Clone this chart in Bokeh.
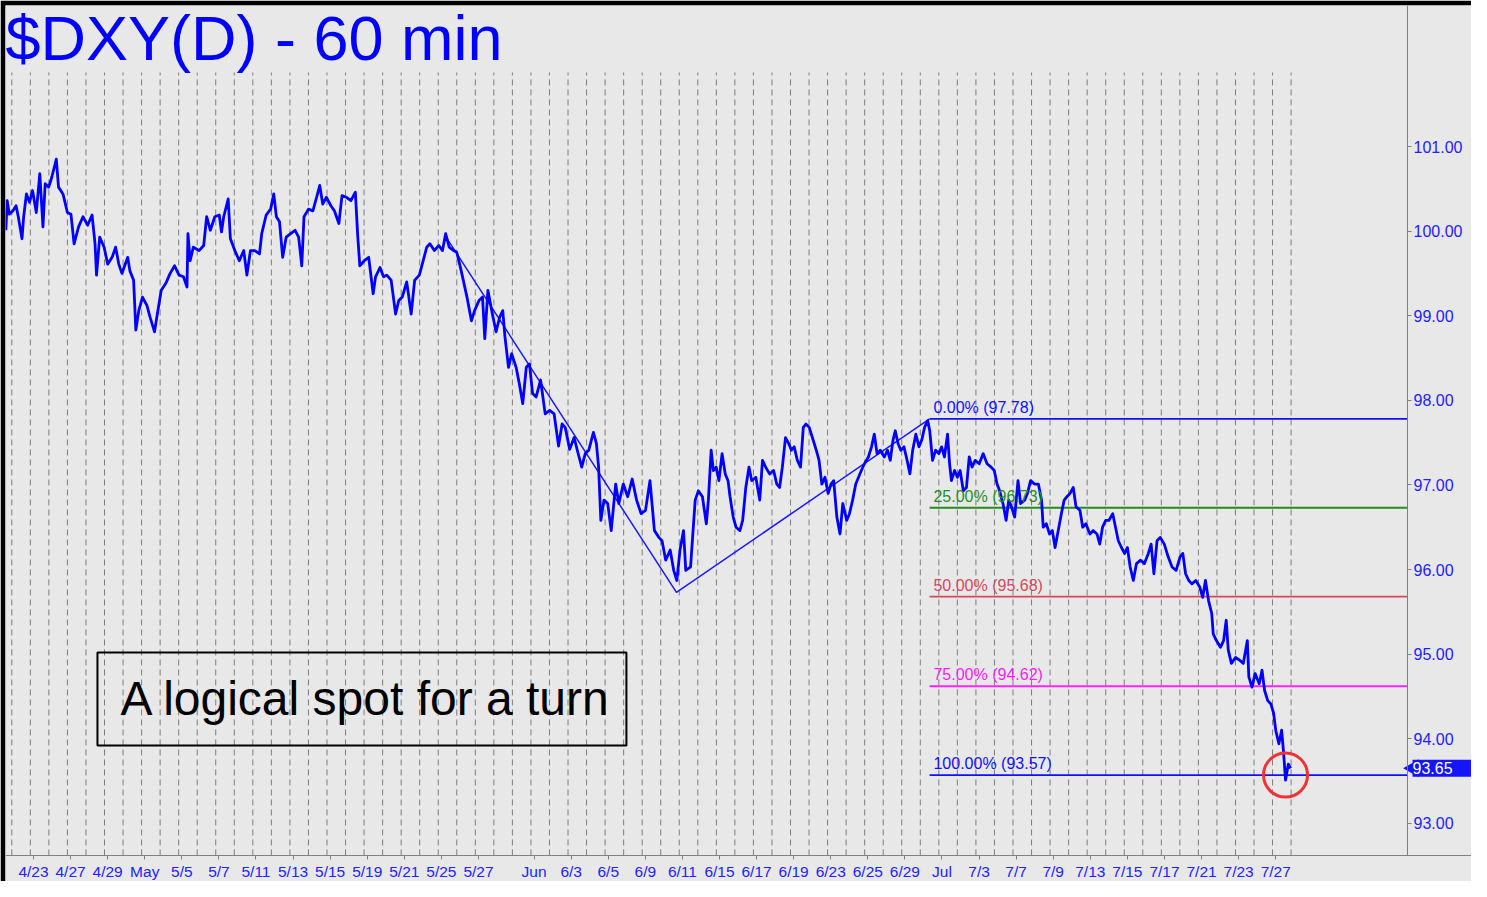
import math
from bokeh.plotting import figure
from bokeh.models import ColumnDataSource, Label, BoxAnnotation, FixedTicker, Range1d
from bokeh.embed import file_html
from bokeh.resources import INLINE
from bokeh.core.properties import value

# ---------------- data ----------------
trading_days = ["4/23", "4/24", "4/27", "4/28", "4/29", "4/30", "5/1", "5/4", "5/5", "5/6",
                "5/7", "5/8", "5/11", "5/12", "5/13", "5/14", "5/15", "5/18", "5/19", "5/20",
                "5/21", "5/22", "5/25", "5/26", "5/27", "5/28", "5/29", "6/1", "6/2", "6/3",
                "6/4", "6/5", "6/8", "6/9", "6/10", "6/11", "6/12", "6/15", "6/16", "6/17",
                "6/18", "6/19", "6/22", "6/23", "6/24", "6/25", "6/26", "6/29", "6/30", "7/1",
                "7/2", "7/3", "7/6", "7/7", "7/8", "7/9", "7/10", "7/13", "7/14", "7/15",
                "7/16", "7/17", "7/20", "7/21", "7/22", "7/23", "7/24", "7/27"]
x_labels = {"4/23": "4/23", "4/27": "4/27", "4/29": "4/29", "5/1": "May", "5/5": "5/5",
            "5/7": "5/7", "5/11": "5/11", "5/13": "5/13", "5/15": "5/15", "5/19": "5/19",
            "5/21": "5/21", "5/25": "5/25", "5/27": "5/27", "6/1": "Jun", "6/3": "6/3",
            "6/5": "6/5", "6/9": "6/9", "6/11": "6/11", "6/15": "6/15", "6/17": "6/17",
            "6/19": "6/19", "6/23": "6/23", "6/25": "6/25", "6/29": "6/29", "7/1": "Jul",
            "7/3": "7/3", "7/7": "7/7", "7/9": "7/9", "7/13": "7/13", "7/15": "7/15",
            "7/17": "7/17", "7/21": "7/21", "7/23": "7/23", "7/27": "7/27"}

y_ticks = [93, 94, 95, 96, 97, 98, 99, 100, 101]
y_tick_labels = ["93.00", "94.00", "95.00", "96.00", "97.00", "98.00", "99.00", "100.00", "101.00"]

# time in trading days from 4/23, hourly-ish DXY readings (Apr 22 - Jun 11)
price_t_a = [-1.49, -1.42, -1.30, -1.11, -0.94, -0.82, -0.62, -0.53, -0.38, -0.215,
             -0.05, 0.15, 0.34, 0.51, 0.63, 0.82, 0.99, 1.23, 1.35, 1.59,
             1.83, 2.02, 2.19, 2.43, 2.67, 2.92, 3.16, 3.32, 3.40, 3.57,
             3.81, 4.00, 4.24, 4.43, 4.60, 4.77, 5.08, 5.20, 5.40, 5.52,
             5.68, 5.88, 6.12, 6.29, 6.53, 6.65, 6.89, 7.13, 7.37, 7.61,
             7.85, 8.09, 8.28, 8.33, 8.45, 8.62, 8.93, 9.18, 9.34, 9.54,
             9.78, 10.02, 10.14, 10.26, 10.50, 10.62, 10.86, 11.10, 11.34, 11.51,
             11.70, 11.94, 12.19, 12.31, 12.55, 12.79, 12.96, 13.10, 13.27, 13.44,
             13.63, 13.87, 14.11, 14.30, 14.47, 14.59, 14.83, 15.07, 15.32, 15.44,
             15.60, 15.80, 16.04, 16.23, 16.47, 16.64, 16.88, 17.12, 17.36, 17.48,
             17.60, 17.84, 18.08, 18.32, 18.45, 18.69, 18.88, 19.05, 19.29, 19.53,
             19.70, 19.89, 20.13, 20.37, 20.56, 20.81, 20.97, 21.21, 21.38, 21.62,
             21.86, 22.06, 22.23, 22.42, 22.66, 22.83, 23.07, 23.38, 23.62, 23.79,
             24.03, 24.22, 24.34, 24.51, 24.75, 24.95, 25.14, 25.31, 25.43, 25.62,
             25.79, 26.03, 26.20, 26.39, 26.58, 26.75, 26.92, 27.11, 27.35, 27.60,
             27.84, 28.08, 28.32, 28.51, 28.68, 28.92, 29.16, 29.33, 29.57, 29.76,
             29.95, 30.20, 30.36, 30.48, 30.60, 30.77, 30.97, 31.16, 31.40, 31.57,
             31.81, 32.05, 32.29, 32.53, 32.77, 33.01, 33.25, 33.49, 33.73, 33.90,
             34.10, 34.34, 34.53, 34.70, 34.87, 35.06, 35.18]
price_v_a = [100.01, 100.36, 100.20, 100.24, 100.30, 100.17, 99.91, 100.17, 100.44, 100.34,
             100.48, 100.22, 100.68, 100.05, 100.56, 100.52, 100.64, 100.85, 100.52, 100.44,
             100.22, 100.20, 99.85, 100.05, 100.17, 100.07, 100.19, 99.85, 99.48, 99.93,
             99.81, 99.61, 99.69, 99.81, 99.61, 99.50, 99.69, 99.53, 99.42, 98.83,
             99.06, 99.22, 99.12, 98.98, 98.81, 98.98, 99.30, 99.38, 99.50, 99.59,
             99.48, 99.46, 99.34, 99.97, 99.65, 99.81, 99.77, 99.83, 100.17, 100.01,
             100.17, 100.19, 99.99, 100.17, 100.38, 99.91, 99.77, 99.65, 99.77, 99.48,
             99.77, 99.77, 99.73, 99.97, 100.19, 100.26, 100.44, 100.17, 100.11, 99.69,
             99.93, 99.97, 100.01, 99.93, 99.59, 100.17, 100.26, 100.24, 100.44, 100.54,
             100.32, 100.40, 100.30, 100.24, 100.09, 100.42, 100.40, 100.36, 100.46, 99.97,
             99.59, 99.65, 99.69, 99.26, 99.46, 99.57, 99.46, 99.48, 99.42, 99.02,
             99.18, 99.22, 99.40, 99.02, 99.42, 99.48, 99.61, 99.81, 99.85, 99.77,
             99.83, 99.77, 99.97, 99.81, 99.77, 99.75, 99.53, 99.22, 98.94, 99.06,
             99.18, 99.22, 98.73, 99.30, 99.02, 98.81, 98.98, 99.06, 98.75, 98.39,
             98.55, 98.39, 98.20, 97.96, 98.39, 98.43, 98.08, 98.04, 98.24, 97.84,
             97.88, 97.84, 97.46, 97.72, 97.68, 97.42, 97.56, 97.41, 97.21, 97.37,
             97.41, 97.62, 97.49, 97.21, 96.58, 96.82, 96.78, 96.46, 97.01, 96.78,
             97.01, 96.86, 97.07, 96.82, 96.66, 96.70, 97.05, 96.46, 96.38, 96.34,
             96.11, 96.23, 95.99, 95.87, 96.23, 96.46, 95.99]

# (Jun 11 - Jul 27)
price_t_b = [35.44, 35.54, 35.69, 35.86, 36.08, 36.29, 36.40, 36.55, 36.67, 36.82,
             36.97, 37.14, 37.31, 37.46, 37.57, 37.74, 37.89, 38.10, 38.25, 38.42,
             38.59, 38.74, 38.96, 39.17, 39.32, 39.49, 39.70, 39.92, 40.09, 40.24,
             40.39, 40.56, 40.73, 40.88, 41.03, 41.20, 41.37, 41.52, 41.66, 41.84,
             42.01, 42.22, 42.37, 42.52, 42.69, 42.86, 43.01, 43.16, 43.33, 43.50,
             43.65, 43.86, 44.01, 44.18, 44.35, 44.50, 44.65, 44.82, 45.03, 45.20,
             45.35, 45.50, 45.67, 45.89, 46.06, 46.21, 46.36, 46.48, 46.63, 46.78,
             46.95, 47.12, 47.27, 47.42, 47.59, 47.76, 47.91, 48.06, 48.23, 48.34,
             48.49, 48.66, 48.83, 48.98, 49.13, 49.30, 49.41, 49.51, 49.68, 49.83,
             49.98, 50.15, 50.32, 50.47, 50.62, 50.79, 51.01, 51.22, 51.43, 51.65,
             51.82, 51.97, 52.11, 52.29, 52.46, 52.60, 52.75, 52.92, 53.10, 53.24,
             53.46, 53.61, 53.78, 53.99, 54.20, 54.37, 54.46, 54.63, 54.80, 54.95,
             55.10, 55.27, 55.44, 55.59, 55.74, 55.91, 56.08, 56.23, 56.44, 56.59,
             56.76, 56.98, 57.15, 57.36, 57.51, 57.66, 57.83, 58.00, 58.21, 58.36,
             58.51, 58.68, 58.85, 59.00, 59.15, 59.32, 59.49, 59.71, 59.92, 60.13,
             60.28, 60.43, 60.60, 60.77, 60.99, 61.20, 61.41, 61.63, 61.84, 61.99,
             62.14, 62.31, 62.48, 62.69, 62.91, 63.06, 63.21, 63.38, 63.55, 63.63,
             63.80, 64.02, 64.19, 64.33, 64.44, 64.61, 64.83, 65.04, 65.25, 65.47,
             65.55, 65.72, 65.89, 66.11, 66.26, 66.40, 66.57, 66.74, 66.89, 67.00,
             67.17, 67.32, 67.43, 67.53, 67.68, 67.81]
price_v_b = [96.03, 96.35, 96.82, 96.93, 96.86, 96.54, 96.82, 97.41, 97.17, 97.21,
             97.05, 97.37, 97.13, 97.05, 96.86, 96.62, 96.50, 96.46, 96.58, 96.97,
             97.21, 97.05, 97.09, 96.82, 97.29, 97.21, 97.13, 97.17, 97.01, 96.97,
             97.21, 97.56, 97.49, 97.41, 97.45, 97.29, 97.21, 97.68, 97.72, 97.68,
             97.56, 97.41, 97.29, 97.01, 97.09, 96.90, 97.01, 97.05, 96.62, 96.42,
             96.78, 96.58, 96.66, 96.82, 97.01, 97.09, 97.17, 97.25, 97.33, 97.45,
             97.60, 97.37, 97.41, 97.33, 97.41, 97.29, 97.53, 97.64, 97.49, 97.41,
             97.45, 97.29, 97.13, 97.41, 97.60, 97.45, 97.53, 97.68, 97.76, 97.64,
             97.29, 97.41, 97.37, 97.45, 97.33, 97.60, 97.25, 97.05, 97.17, 97.09,
             97.17, 96.93, 96.97, 97.33, 97.21, 97.29, 97.25, 97.37, 97.25, 97.21,
             97.17, 97.01, 96.93, 96.78, 96.58, 96.82, 96.74, 96.62, 97.05, 96.78,
             96.82, 96.90, 97.05, 97.01, 97.01, 96.82, 96.50, 96.54, 96.42, 96.46,
             96.26, 96.46, 96.66, 96.82, 96.86, 96.90, 96.97, 96.74, 96.70, 96.50,
             96.54, 96.42, 96.46, 96.42, 96.30, 96.50, 96.58, 96.58, 96.66, 96.50,
             96.34, 96.26, 96.19, 96.26, 96.03, 95.87, 96.07, 96.11, 96.07, 96.19,
             96.30, 95.95, 96.34, 96.38, 96.30, 96.15, 96.03, 95.99, 96.15, 96.19,
             95.95, 95.87, 95.83, 95.87, 95.79, 95.67, 95.87, 95.63, 95.48, 95.24,
             95.16, 95.08, 95.16, 95.40, 95.05, 94.89, 94.96, 94.93, 94.89, 95.16,
             94.73, 94.61, 94.77, 94.65, 94.81, 94.57, 94.45, 94.41, 94.30, 94.10,
             93.94, 94.10, 93.82, 93.51, 93.70, 93.65]

# ABC swing (trend lines)
swing_t = [22.22, 34.68, 48.33]
swing_v = [99.94, 95.73, 97.78]

# Fibonacci projection levels
fib_pct = [0.0, 25.0, 50.0, 75.0, 100.0]
fib_val = [97.78, 96.73, 95.68, 94.62, 93.57]
fib_colors = ["#1010ff", "#1f8f1f", "#d24a5a", "#ff20ff", "#1010ff"]

last_price = 93.65
title_text = "$DXY(D) - 60 min"
note_text = "A logical spot for a turn"

# ---------------- figure ----------------
W, H = 1471, 881
X0, X1 = -1.51, 77.56        # frame spans the whole width
X_AXIS = 74.11               # where the price scale sits
Y_AXIS = 92.62               # where the time scale sits
Y0, Y1 = 92.312, 102.667
PX_PER_UNIT = 84.6
PX_PER_DAY = 18.54
BG = "#e8e8e8"
BLUE = "#0000ff"
FONT = "Liberation Sans"

p = figure(width=W, height=H, x_range=Range1d(X0, X1), y_range=Range1d(Y0, Y1),
           y_axis_location="right", output_backend="svg", toolbar_location=None,
           min_border_left=5, min_border_top=5, min_border_right=0, min_border_bottom=0)
p.background_fill_color = BG
p.border_fill_color = "#000000"
p.outline_line_color = None
p.xgrid.visible = False
p.ygrid.visible = False

# y axis (price scale, pinned at X_AXIS)
ya = p.yaxis[0]
ya.fixed_location = X_AXIS
ya.bounds = (Y_AXIS, Y1)
ya.ticker = FixedTicker(ticks=y_ticks)
ya.major_label_overrides = {t: s for t, s in zip(y_ticks, y_tick_labels)}
ya.major_label_text_color = "#2222ff"
ya.major_label_text_font = FONT
ya.major_label_text_font_size = "16px"
ya.axis_line_color = "#808080"
ya.major_tick_line_color = "#808080"
ya.major_tick_out = 4
ya.major_tick_in = 0
ya.minor_tick_line_color = None
ya.major_label_standoff = 2

# x axis (trading-day index, pinned at Y_AXIS)
day_index = {d: i for i, d in enumerate(trading_days)}
xt = [day_index[d] for d in x_labels]
xa = p.xaxis[0]
xa.fixed_location = Y_AXIS
xa.ticker = FixedTicker(ticks=xt)
xa.major_label_overrides = {day_index[d]: s for d, s in x_labels.items()}
xa.major_label_text_color = "#2222ff"
xa.major_label_text_font = FONT
xa.major_label_text_font_size = "15.5px"
xa.axis_line_color = "#808080"
xa.major_tick_line_color = "#808080"
xa.major_tick_out = 4
xa.major_tick_in = 0
xa.minor_tick_line_color = None
xa.major_label_standoff = 4

# dashed daily grid (one line per trading day, starting a day before)
gx = [i - 0.17 for i in range(-1, len(trading_days) + 1)]
p.segment(x0=gx, y0=[Y_AXIS] * len(gx), x1=gx, y1=[101.875] * len(gx),
          line_color="#7c7c7c", line_width=1, line_dash="6 4")

# fib levels
fib_src = ColumnDataSource(dict(
    x0=[swing_t[2]] * len(fib_val), x1=[X_AXIS] * len(fib_val), y=fib_val, color=fib_colors,
    lx=[swing_t[2] + 0.21] * len(fib_val),
    ly=[v + (5.5 + 0.36 * 16) / PX_PER_UNIT for v in fib_val],
    txt=["%.2f%% (%.2f)" % (a, b) for a, b in zip(fib_pct, fib_val)]))
p.segment(x0="x0", y0="y", x1="x1", y1="y", line_color="color", line_width=1.8, source=fib_src)

# trend lines
p.line(swing_t, swing_v, line_color="#1a1aff", line_width=1.5)

# price
price_t = price_t_a + price_t_b
price_v = price_v_a + price_v_b
p.line(price_t, price_v, line_color=BLUE, line_width=2.8, line_join="round")

p.text(x="lx", y="ly", text="txt", text_color="color", source=fib_src,
       text_font=value(FONT), text_font_size="16px", text_baseline="alphabetic",
       text_align="left")

# red circle at the low
i_low = min(range(len(price_v)), key=lambda i: price_v[i])
p.scatter(x=[price_t[i_low]], y=[fib_val[-1]], marker="circle", size=44,
          fill_color=None, line_color="#ee3535", line_width=3)

# last-price tag on the price scale
half_h = 8.5 / PX_PER_UNIT
p.quad(left=[X_AXIS + 5.0 / PX_PER_DAY], right=[X1], bottom=[last_price - half_h],
       top=[last_price + half_h], fill_color="#1414ff", line_color=None)
p.scatter(x=[X_AXIS + 6.0 / PX_PER_DAY], y=[last_price], marker="triangle", size=18,
          angle=math.pi / 2, fill_color="#1414ff", line_color=None)
p.text(x=[X_AXIS], y=[last_price], text=["%.2f" % last_price], x_offset=5,
       text_color="white", text_font=value(FONT), text_font_size="16px",
       text_baseline="middle", text_align="left")

# title (baseline near y=61 px)
p.add_layout(Label(x=X0, y=101 + (146 - 61 + 0.38 * 63) / PX_PER_UNIT, text=title_text,
                   text_color=BLUE, text_font=FONT, text_font_size="63px",
                   text_baseline="alphabetic"))

# note box
p.add_layout(BoxAnnotation(left=3.45, right=31.98, top=95.02, bottom=93.92,
                           fill_color=None, line_color="black", line_alpha=1.0, line_width=2))
p.add_layout(Label(x=4.69, y=94.26 + 0.38 * 48 / PX_PER_UNIT, text=note_text,
                   text_color="black", text_font=FONT, text_font_size="48px",
                   text_baseline="alphabetic"))

open("out.html", "w").write(file_html(p, INLINE))
